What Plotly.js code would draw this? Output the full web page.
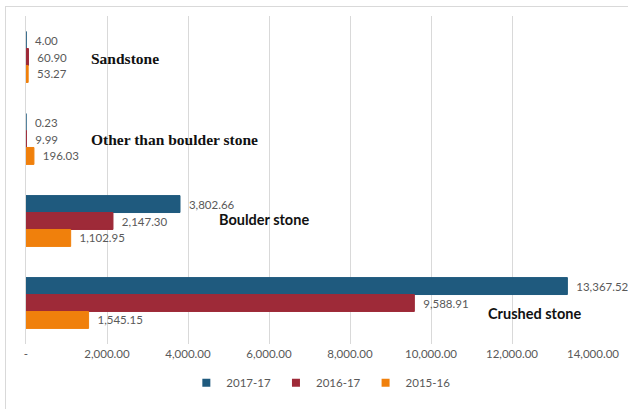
<!DOCTYPE html>
<html>
<head>
<meta charset="utf-8">
<script src="https://cdn.plot.ly/plotly-3.0.1.min.js"></script>
<style>
  html, body { margin: 0; padding: 0; background: #ffffff; }
  #wrap { position: relative; width: 628px; height: 409px; overflow: hidden; }
  #frame { position: absolute; left: 5px; top: 6px; width: 640px; height: 420px;
           border-left: 1px solid #d9d9d9; border-top: 1px solid #d9d9d9; pointer-events: none; }
  #chart { position: absolute; left: 0; top: 0; width: 628px; height: 409px; }
</style>
</head>
<body>
<div id="wrap">
  <div id="chart"></div>
  <div id="frame"></div>
</div>
<script>
// ---- data ----
const categories = ["Sandstone", "Other than boulder stone", "Boulder stone", "Crushed stone"];
const seriesNames = ["2017-17", "2016-17", "2015-16"];
const values2017 = [4.00, 0.23, 3802.66, 13367.52];
const values2016 = [60.90, 9.99, 2147.30, 9588.91];
const values2015 = [53.27, 196.03, 1102.95, 1545.15];
const tickValues = [0, 2000, 4000, 6000, 8000, 10000, 12000, 14000];
const tickLabels = ["-", "2,000.00", "4,000.00", "6,000.00", "8,000.00", "10,000.00", "12,000.00", "14,000.00"];

// ---- styling ----
const colors = ["#1f5a7e", "#9e2a38", "#f0800c"];
const seriesValues = [values2017, values2016, values2015];
const labelFont = { family: "Lato, 'Open Sans', sans-serif", size: 11.5, color: "#595959" };

const traces = [];
seriesValues.forEach((vals, i) => {
  traces.push({
    type: "bar",
    orientation: "h",
    name: seriesNames[i],
    y: categories,
    x: vals,
    marker: { color: colors[i], line: { color: colors[i], width: 1 } },
    texttemplate: "\u00a0\u00a0%{x:,.2f}",
    textposition: "outside",
    textfont: labelFont,
    cliponaxis: false,
    showlegend: false,
    hoverinfo: "skip"
  });
});
// legend entries (small square keys like the original)
seriesNames.forEach((n, i) => {
  traces.push({
    type: "scatter",
    mode: "markers",
    name: n,
    x: [null],
    y: [null],
    marker: { symbol: "square", size: 8, color: colors[i] },
    showlegend: true,
    hoverinfo: "skip"
  });
});

const catLabelSerif = { family: "'Liberation Serif', 'Times New Roman', serif", size: 15.5, color: "#111111", weight: "bold" };
const catLabelSans = { family: "Lato, 'Open Sans', sans-serif", size: 14.5, color: "#111111", weight: "bold" };

const annotations = [
  { text: "<b>Sandstone</b>", x: 1560, y: categories[0], xanchor: "left", yanchor: "middle", yshift: -1, font: catLabelSerif },
  { text: "<b>Other than boulder stone</b>", x: 1560, y: categories[1], xanchor: "left", yanchor: "middle", yshift: 0, font: catLabelSerif },
  { text: "<b>Boulder stone</b>", x: 4720, y: categories[2], xanchor: "left", yanchor: "middle", yshift: 2, font: catLabelSans },
  { text: "<b>Crushed stone</b>", x: 11350, y: categories[3], xanchor: "left", yanchor: "middle", yshift: -10, font: catLabelSans }
].map(a => Object.assign({ xref: "x", yref: "y", showarrow: false }, a));

const layout = {
  width: 628,
  height: 409,
  margin: { l: 26, r: 35, t: 16, b: 63 },
  paper_bgcolor: "rgba(0,0,0,0)",
  plot_bgcolor: "rgba(0,0,0,0)",
  barmode: "group",
  bargap: 0.38,
  bargroupgap: 0,
  showlegend: true,
  legend: {
    orientation: "h",
    x: 0.52, xanchor: "center",
    y: -0.118, yanchor: "middle",
    font: labelFont,
    itemwidth: 30,
    bgcolor: "rgba(0,0,0,0)"
  },
  xaxis: {
    range: [0, 14000],
    tickmode: "array",
    tickvals: tickValues,
    ticktext: tickLabels,
    tickfont: labelFont,
    showgrid: true,
    gridcolor: "#d9d9d9",
    gridwidth: 1,
    zeroline: false,
    showline: false,
    ticks: "",
    ticklabelstandoff: 1,
    fixedrange: true
  },
  yaxis: {
    type: "category",
    categoryorder: "array",
    categoryarray: categories,
    autorange: "reversed",
    showticklabels: false,
    showgrid: false,
    zeroline: false,
    showline: true,
    linecolor: "#d9d9d9",
    linewidth: 1,
    ticks: "",
    fixedrange: true
  },
  annotations: annotations
};

Plotly.newPlot("chart", traces, layout, { staticPlot: true, displayModeBar: false });
</script>
</body>
</html>
